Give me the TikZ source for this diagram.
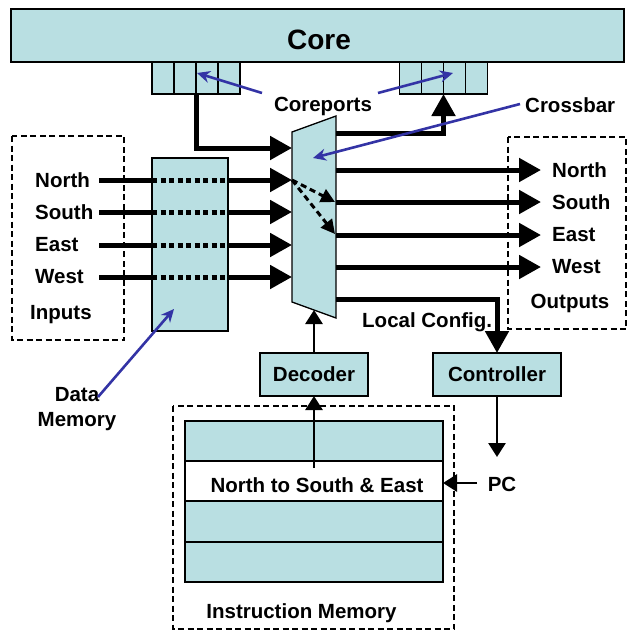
\documentclass[tikz,border=0pt]{standalone}
\usepackage{fontspec}
\setmainfont{Liberation Sans}
\usetikzlibrary{arrows.meta}
\definecolor{cy}{RGB}{185,223,226}
\definecolor{bl}{RGB}{51,51,165}
\begin{document}
\begin{tikzpicture}[x=1pt,y=-1pt,
 box/.style={draw=black, line width=1.3pt, fill=cy, inner sep=0pt, outer sep=0pt},
 lbl/.style={font=\fontsize{20.5}{25}\selectfont\bfseries, inner sep=0pt},
 big/.style={line width=5pt, line join=miter, -{Triangle[length=22pt,width=23pt]}},
 bigline/.style={line width=5pt},
 dotline/.style={line width=5pt, dash pattern=on 5pt off 3.5pt},
 tharrow/.style={line width=2.8pt, -{Triangle[length=14pt,width=17pt]}},
 ptr/.style={draw=bl, line width=2.6pt, -{Stealth[length=13pt,width=12pt]}},
 dbox/.style={draw, line width=1.8pt, dash pattern=on 6pt off 3.5pt},
 dsharrow/.style={line width=3pt, dash pattern=on 6pt off 4pt, -{Triangle[length=14pt,width=14pt]}},
]
\useasboundingbox (0,0) rectangle (629,632);

% Core and coreports
\node[box, minimum width=613pt, minimum height=53pt] (core) at (317.5,35.5) {};
\node[font=\fontsize{28}{30}\selectfont\bfseries, inner sep=0pt] (coretxt) at (319,40) {Core};
\foreach \i/\x in {1/163,2/185,3/207,4/229}
  \node[box, minimum width=22pt, minimum height=32pt] (cl\i) at (\x,78) {};
\foreach \i/\x in {1/410.5,2/432.5,3/454.5,4/476.5}
  \node[box, minimum width=22pt, minimum height=32pt] (cr\i) at (\x,78) {};

% Inputs box
\draw[dbox] (12,136) rectangle (124,340);
\node[lbl, anchor=west] (inputs) at (30,315) {Inputs};

% Data memory
\node[box, minimum width=76pt, minimum height=173pt] (dmem) at (190,244.5) {};

% Crossbar
\draw[box] (292,132) -- (336,116) -- (336,318) -- (292,302) -- cycle;
\coordinate (xbar) at (313,158);

% Outputs box
\draw[dbox] (508,137) rectangle (626,329);
\node[lbl] (outputs) at (570,303) {Outputs};

% inputs
\foreach \n/\y in {North/180,South/212,East/245,West/277}{
  \node[lbl, anchor=west] (in\n) at (35,\y) {\n};
  \coordinate (ia\n) at (99,\y);
  \coordinate (ib\n) at (152,\y);
  \coordinate (ic\n) at (228,\y);
  \coordinate (xi\n) at (292,\y);
  \draw[bigline] (ia\n) -- (ib\n);
  \draw[dotline] (ib\n) -- (ic\n);
  \draw[big] (ic\n) -- (xi\n);
}

% outputs
\foreach \n/\y in {North/170,South/202,East/235,West/267}{
  \coordinate (xo\n) at (336,\y);
  \coordinate (ot\n) at (541,\y);
  \draw[big] (xo\n) -- (ot\n);
  \node[lbl, anchor=west] (out\n) at (552,\y) {\n};
}

% coreport connections
\coordinate (xcin) at (292,148);
\coordinate (xcout) at (336,133);
\draw[big] (cl2.south east) -- (cl2.south east |- xcin) -- (xcin);
\draw[big] (xcout) -- (cr2.south east |- xcout) -- (cr2.south east);

% dashed internal switching
\draw[dsharrow] (xiNorth) -- (335,202);
\draw[dsharrow] (xiNorth) -- (335,234);

% Decoder, controller
\node[box, minimum width=108pt, minimum height=43pt, font=\fontsize{20.5}{25}\selectfont\bfseries] (dec) at (314,374.5) {Decoder};
\node[box, minimum width=128pt, minimum height=43pt, font=\fontsize{20.5}{25}\selectfont\bfseries] (ctrl) at (497,374.5) {Controller};
\coordinate (xbot) at (314,310);
\draw[tharrow] (dec.north) -- (xbot);

% local config
\coordinate (xlc) at (336,299);
\draw[big] (xlc) -- (ctrl.north |- xlc) -- (ctrl.north);
\node[lbl, anchor=west] (lc) at (362,322) {Local Config.};

% PC
\node[lbl] (pc) at (502,484) {PC};
\coordinate (pcin) at (497,457);
\draw[tharrow] (ctrl.south) -- (pcin);

% Instruction memory
\draw[dbox] (173,406) rectangle (454,629);
\node[box, minimum width=258pt, minimum height=40pt] (r1) at (314,441) {};
\node[box, fill=white, minimum width=258pt, minimum height=40pt] (r2) at (314,481) {};
\node[box, minimum width=258pt, minimum height=41pt] (r3) at (314,521.5) {};
\node[box, minimum width=258pt, minimum height=40pt] (r4) at (314,562) {};
\node[lbl] (instr) at (317,485) {North to South \& East};
\node[lbl] (imem) at (301.5,613) {Instruction Memory};
\coordinate (rsrc) at (314,468);
\draw[tharrow] (rsrc) -- (dec.south);
\coordinate (pcs) at (477,483);
\draw[tharrow] (pcs) -- (r2.east |- pcs);

% pointer labels
\node[lbl] (cplbl) at (323,106) {Coreports};
\draw[ptr] (262,93) -- (197,73);
\draw[ptr] (378,93) -- (453,73);
\node[lbl, anchor=west] (xblbl) at (525,105) {Crossbar};
\draw[ptr] (520,104) -- (xbar);
\node[lbl, align=center] (dmlbl) at (77,409) {Data\\Memory};
\draw[ptr] (98,397) -- (174,309);
\end{tikzpicture}
\end{document}
